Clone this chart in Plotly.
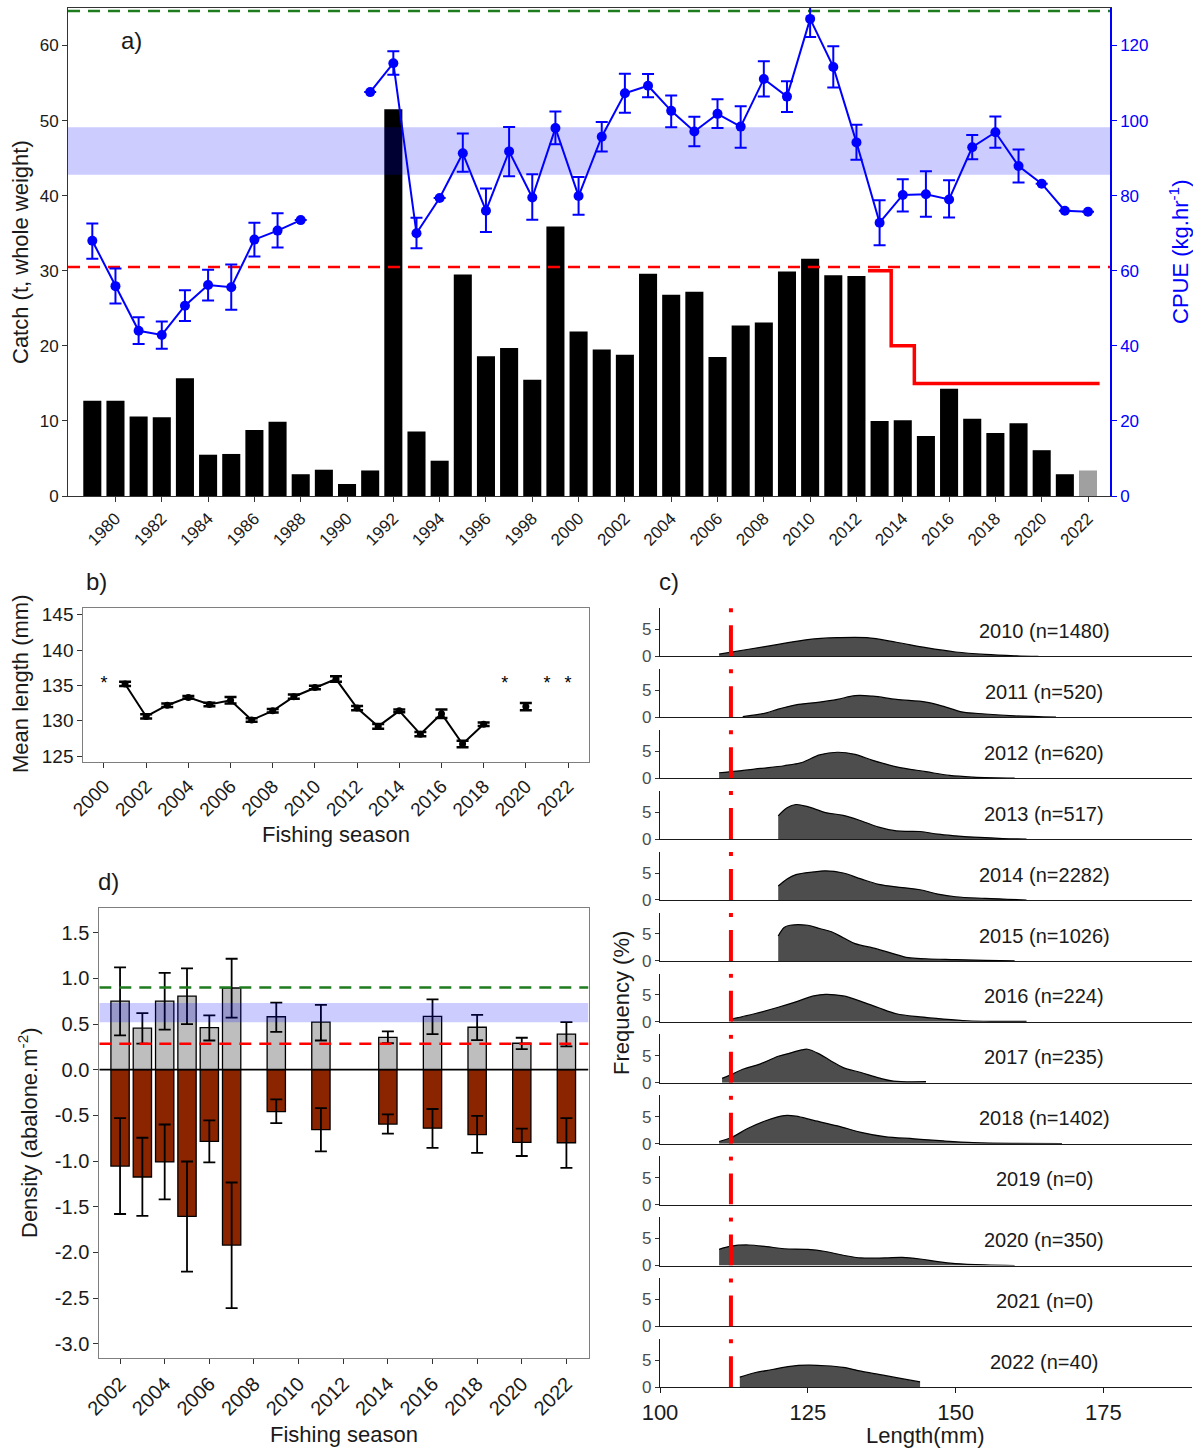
import plotly.graph_objects as go

W, H = 1193, 1449
FONT = "Liberation Sans, Arial, Helvetica, sans-serif"


def px(x):
    return x / W


def py(y):
    return 1 - y / H


# ---------------- Panel a: catch (t) and CPUE ----------------
years_a = list(range(1979, 2023))
catch_t = [12.7, 12.7, 10.6, 10.5, 15.7, 5.5, 5.6, 8.8, 9.9, 2.9, 3.5, 1.6, 3.4, 51.5,
           8.6, 4.7, 29.5, 18.6, 19.7, 15.5, 35.9, 21.9, 19.5, 18.8, 29.6, 26.8, 27.2,
           18.5, 22.7, 23.1, 29.9, 31.6, 29.4, 29.3, 10.0, 10.1, 8.0, 14.3, 10.3, 8.4,
           9.7, 6.1, 2.9, 3.4]
partial_year = 2022
cpue = [68.0, 55.9, 44.0, 42.9, 50.7, 56.2, 55.6, 68.3, 70.7, 73.5, None, None, 107.6,
        115.3, 70.0, 79.4, 91.3, 76.0, 91.8, 79.5, 98.0, 79.9, 95.7, 107.3, 109.3, 102.6,
        97.1, 101.8, 98.4, 111.1, 106.4, 127.1, 114.3, 94.2, 72.8, 80.2, 80.4, 79.0,
        92.9, 96.9, 87.9, 83.2, 76.0, 75.7]
cpue_hi = [72.6, 60.6, 47.6, 46.5, 54.8, 60.3, 61.7, 72.8, 75.3, None, None, None, None,
           118.5, 74.1, None, 96.6, 81.9, 98.3, 85.7, 102.4, 85.0, 99.6, 112.5, 112.4,
           106.7, 101.0, 105.7, 103.8, 115.8, 110.5, 131.9, 119.8, 98.9, 78.8, 84.4, 86.5,
           84.1, 96.2, 101.1, 92.3, None, None, None]
cpue_lo = [63.2, 51.3, 40.5, 39.2, 46.6, 52.1, 49.6, 63.8, 66.2, None, None, None, None,
           112.2, 66.0, None, 86.4, 70.3, 85.2, 73.6, 93.7, 74.9, 91.8, 102.1, 106.2,
           98.2, 93.2, 98.0, 92.8, 106.4, 102.3, 122.3, 108.8, 89.6, 66.8, 75.8, 74.4,
           74.2, 89.7, 92.8, 83.5, None, None, None]
cpue_target = 129.2
cpue_band = [85.6, 98.2]
cpue_limit = 61.0
tacc_x = [2012.5, 2013.5, 2013.5, 2014.5, 2014.5, 2022.5]
tacc_t = [30, 30, 20, 20, 15, 15]

# ---------------- Panel b: mean length ----------------
len_years = list(range(2001, 2021))
mean_len = [135.2, 130.6, 132.2, 133.3, 132.3, 132.9, 130.1, 131.4, 133.4, 134.7, 135.9,
            131.8, 129.2, 131.4, 128.1, 131.0, 126.7, 129.5, None, 132.0]
len_se = [0.3, 0.3, 0.25, 0.2, 0.25, 0.45, 0.25, 0.25, 0.3, 0.25, 0.4, 0.3, 0.35, 0.2,
          0.3, 0.6, 0.45, 0.25, None, 0.5]
no_sample_years = [2000, 2019, 2021, 2022]

# ---------------- Panel d: density ----------------
dens_years = [2002, 2003, 2004, 2005, 2006, 2007, 2009, 2011, 2014, 2016, 2018, 2020, 2022]
legal = [0.75, 0.455, 0.75, 0.805, 0.46, 0.895, 0.58, 0.52, 0.355, 0.585, 0.465, 0.29, 0.39]
legal_hi = [1.12, 0.62, 1.06, 1.11, 0.595, 1.215, 0.735, 0.71, 0.42, 0.77, 0.60, 0.35, 0.52]
legal_lo = [0.375, 0.285, 0.44, 0.50, 0.32, 0.57, 0.415, 0.32, 0.29, 0.39, 0.325, 0.225, 0.255]
sublegal = [-1.055, -1.175, -1.01, -1.605, -0.785, -1.92, -0.46, -0.655, -0.595, -0.64,
            -0.71, -0.795, -0.80]
sublegal_hi = [-0.53, -0.745, -0.60, -1.005, -0.555, -1.235, -0.325, -0.42, -0.49, -0.43,
               -0.505, -0.645, -0.53]
sublegal_lo = [-1.58, -1.60, -1.42, -2.21, -1.015, -2.61, -0.585, -0.895, -0.70, -0.855,
               -0.91, -0.945, -1.075]
dens_target = 0.9
dens_band = [0.52, 0.73]
dens_limit = 0.285
dens_ticks = [1.5, 1.0, 0.5, 0.0, -0.5, -1.0, -1.5, -2.0, -2.5, -3.0]

# ---------------- Panel c: length frequency ----------------
lf_years = list(range(2010, 2023))
sample_n = [1480, 520, 620, 517, 2282, 1026, 224, 235, 1402, 0, 350, 0, 40]
min_legal_length = 112
lf_x_2010 = [110, 115, 120, 125, 130, 135, 140, 145, 150, 155, 160, 164]
lf_y_2010 = [0.4, 1.3, 2.2, 3.1, 3.45, 3.45, 2.6, 1.6, 0.8, 0.35, 0.1, 0.0]
lf_x_2011 = [114, 118, 120, 123, 127, 130, 133, 136, 140, 145, 148, 151, 155, 160, 167]
lf_y_2011 = [0.1, 0.8, 1.5, 2.3, 2.8, 3.3, 4.0, 3.9, 3.3, 2.8, 2.0, 1.0, 0.6, 0.25, 0.0]
lf_x_2012 = [110, 113, 117, 121, 124, 127, 130, 133, 136, 140, 145, 149, 153, 160]
lf_y_2012 = [1.0, 1.3, 1.8, 2.3, 2.9, 4.3, 4.8, 4.4, 3.3, 2.1, 1.2, 0.5, 0.2, 0.0]
lf_x_2013 = [120, 121.5, 123, 125, 128, 131, 134, 137, 140, 144, 147, 150, 154, 158, 162]
lf_y_2013 = [4.3, 5.8, 6.4, 6.0, 4.9, 4.4, 3.4, 2.2, 1.5, 1.4, 0.9, 0.6, 0.3, 0.1, 0.0]
lf_x_2014 = [120, 121.5, 123, 126, 128, 131, 134, 137, 141, 144, 147, 150, 155, 162]
lf_y_2014 = [2.6, 3.9, 4.7, 5.2, 5.4, 5.0, 3.9, 2.9, 2.3, 1.9, 1.1, 0.6, 0.3, 0.0]
lf_x_2015 = [120, 121, 122, 125, 127, 129, 131, 133, 136, 139, 142, 145, 150, 155, 160]
lf_y_2015 = [4.6, 6.2, 6.6, 6.6, 6.0, 5.4, 4.3, 3.2, 2.4, 1.5, 0.6, 0.4, 0.25, 0.1, 0.0]
lf_x_2016 = [112, 116, 120, 123, 126, 128, 131, 134, 137, 140, 144, 148, 152, 156, 162]
lf_y_2016 = [0.5, 1.5, 2.7, 3.7, 4.8, 5.1, 4.8, 3.8, 2.6, 1.5, 0.9, 0.5, 0.2, 0.1, 0.1]
lf_x_2017 = [110.5, 112, 114, 117, 120, 122, 124, 125, 127, 129, 131, 134, 137, 139.5, 145]
lf_y_2017 = [0.8, 1.5, 2.5, 3.5, 4.9, 5.5, 6.1, 6.2, 5.3, 4.0, 2.8, 1.9, 0.9, 0.3, 0.2]
lf_x_2018 = [110, 112, 115, 118, 121, 123, 126, 130, 134, 138, 143, 148, 153, 160, 168]
lf_y_2018 = [0.4, 1.1, 2.9, 4.3, 5.2, 5.1, 4.3, 3.3, 2.1, 1.3, 0.9, 0.5, 0.2, 0.05, 0.0]
lf_x_2019 = []
lf_y_2019 = []
lf_x_2020 = [110, 112, 115, 118, 121, 125, 128, 131, 134, 138, 141, 144, 147, 150, 155, 160]
lf_y_2020 = [3.0, 3.6, 3.8, 3.5, 3.1, 3.0, 2.6, 1.9, 1.4, 1.4, 1.5, 1.2, 0.7, 0.35, 0.1, 0.0]
lf_x_2021 = []
lf_y_2021 = []
lf_x_2022 = [113.5, 116, 119, 122, 125, 128, 131, 134, 137, 140, 144]
lf_y_2022 = [1.9, 2.7, 3.3, 3.9, 4.1, 4.0, 3.7, 3.0, 2.4, 1.8, 1.0]
lf_x = [lf_x_2010, lf_x_2011, lf_x_2012, lf_x_2013, lf_x_2014, lf_x_2015, lf_x_2016,
        lf_x_2017, lf_x_2018, lf_x_2019, lf_x_2020, lf_x_2021, lf_x_2022]
lf_y = [lf_y_2010, lf_y_2011, lf_y_2012, lf_y_2013, lf_y_2014, lf_y_2015, lf_y_2016,
        lf_y_2017, lf_y_2018, lf_y_2019, lf_y_2020, lf_y_2021, lf_y_2022]

fig = go.Figure()
AXC = "#333333"
BOXC = "#7f7f7f"
TXT = "#1a1a1a"

# ===== Panel a =====
xa_range = [1977.95, 2022.95]
bar_colors = ["#a0a0a0" if y == partial_year else "black" for y in years_a]
fig.add_trace(go.Bar(x=years_a, y=catch_t, width=0.78, marker=dict(color=bar_colors, line=dict(width=0)),
                     xaxis="x", yaxis="y", showlegend=False))
fig.add_trace(go.Scatter(x=tacc_x, y=tacc_t, mode="lines", line=dict(color="#ff0000", width=3.5),
                         xaxis="x", yaxis="y", showlegend=False))
fig.add_trace(go.Scatter(x=[xa_range[0], xa_range[1], xa_range[1], xa_range[0], xa_range[0]],
                         y=[cpue_band[0], cpue_band[0], cpue_band[1], cpue_band[1], cpue_band[0]],
                         fill="toself", fillcolor="rgba(0,0,255,0.2)", mode="lines", line=dict(width=0),
                         xaxis="x", yaxis="y2", showlegend=False, hoverinfo="skip"))
fig.add_trace(go.Scatter(x=xa_range, y=[cpue_limit] * 2, mode="lines",
                         line=dict(color="#ff0000", width=2.5, dash="12px,8px"),
                         xaxis="x", yaxis="y2", showlegend=False))
fig.add_trace(go.Scatter(x=xa_range, y=[cpue_target] * 2, mode="lines",
                         line=dict(color="#1e7b1e", width=2.5, dash="12px,8px"),
                         xaxis="x", yaxis="y2", showlegend=False))
plus = [h - v if h is not None else None for h, v in zip(cpue_hi, cpue)]
minus = [v - l if l is not None else None for l, v in zip(cpue_lo, cpue)]
fig.add_trace(go.Scatter(x=years_a, y=cpue, mode="lines+markers", connectgaps=False,
                         line=dict(color="#0000ff", width=2), marker=dict(color="#0000ff", size=10),
                         error_y=dict(type="data", array=plus, arrayminus=minus, color="#0000ff",
                                      thickness=2, width=6),
                         xaxis="x", yaxis="y2", showlegend=False))

# ===== Panel b =====
fig.add_trace(go.Scatter(x=len_years, y=mean_len, mode="lines+markers", connectgaps=False,
                         line=dict(color="black", width=2), marker=dict(color="black", size=7),
                         error_y=dict(type="data", array=len_se, color="black", thickness=2.5, width=6),
                         xaxis="x2", yaxis="y3", showlegend=False))
fig.add_trace(go.Scatter(x=no_sample_years, y=[135.1] * len(no_sample_years), mode="text",
                         text=["*"] * len(no_sample_years),
                         textfont=dict(size=18, color="black", family=FONT),
                         xaxis="x2", yaxis="y3", showlegend=False))

# ===== Panel d =====
xd_range = [2001.07, 2022.99]
fig.add_trace(go.Bar(x=dens_years, y=legal, width=0.82,
                     marker=dict(color="#bebebe", line=dict(color="black", width=1.3)),
                     error_y=dict(type="data", array=[h - v for h, v in zip(legal_hi, legal)],
                                  arrayminus=[v - l for l, v in zip(legal_lo, legal)],
                                  color="black", thickness=1.8, width=6),
                     xaxis="x3", yaxis="y4", showlegend=False))
fig.add_trace(go.Bar(x=dens_years, y=sublegal, width=0.82,
                     marker=dict(color="#8b2500", line=dict(color="black", width=1.3)),
                     error_y=dict(type="data", array=[h - v for h, v in zip(sublegal_hi, sublegal)],
                                  arrayminus=[v - l for l, v in zip(sublegal_lo, sublegal)],
                                  color="black", thickness=1.8, width=6),
                     xaxis="x3", yaxis="y4", showlegend=False))
fig.add_trace(go.Scatter(x=[xd_range[0], xd_range[1], xd_range[1], xd_range[0], xd_range[0]],
                         y=[dens_band[0], dens_band[0], dens_band[1], dens_band[1], dens_band[0]],
                         fill="toself", fillcolor="rgba(0,0,255,0.2)", mode="lines", line=dict(width=0),
                         xaxis="x3", yaxis="y4", showlegend=False, hoverinfo="skip"))
fig.add_trace(go.Scatter(x=xd_range, y=[dens_limit] * 2, mode="lines",
                         line=dict(color="#ff0000", width=2.5, dash="12px,8px"),
                         xaxis="x3", yaxis="y4", showlegend=False))
fig.add_trace(go.Scatter(x=xd_range, y=[dens_target] * 2, mode="lines",
                         line=dict(color="#1e7b1e", width=2.5, dash="12px,8px"),
                         xaxis="x3", yaxis="y4", showlegend=False))
fig.add_trace(go.Scatter(x=xd_range, y=[0, 0], mode="lines", line=dict(color="black", width=1.8),
                         xaxis="x3", yaxis="y4", showlegend=False))

layout = dict(
    width=W, height=H, autosize=False, template="none",
    margin=dict(l=0, r=0, t=0, b=0, pad=0), paper_bgcolor="white", plot_bgcolor="white",
    font=dict(family=FONT, color=TXT), barmode="overlay", showlegend=False,
)

common = dict(showgrid=False, zeroline=False, automargin=False, ticks="outside", ticklen=5,
              tickwidth=1, showline=True, linewidth=1)

layout["xaxis"] = dict(common, domain=[px(68), px(1110)], anchor="y", range=xa_range,
                       tickvals=list(range(1980, 2023, 2)), tickangle=-45, tickfont=dict(size=17),
                       linecolor=AXC, tickcolor=AXC, mirror=True)
layout["yaxis"] = dict(common, domain=[py(496), py(8)], anchor="x", range=[0, 65],
                       tickvals=list(range(0, 61, 10)), tickfont=dict(size=17), linecolor=AXC, tickcolor=AXC)
layout["yaxis2"] = dict(common, overlaying="y", side="right", anchor="x", range=[0, 130],
                        tickvals=list(range(0, 121, 20)), tickfont=dict(size=17, color="#0000ff"),
                        linecolor="#0000ff", tickcolor="#0000ff", linewidth=1.5)

layout["xaxis2"] = dict(common, domain=[px(83.3), px(588.7)], anchor="y3", range=[1999.02, 2022.98],
                        tickvals=list(range(2000, 2023, 2)), tickangle=-45, tickfont=dict(size=19),
                        linecolor=BOXC, tickcolor=AXC, mirror=True)
layout["yaxis3"] = dict(common, domain=[py(761.7), py(607.7)], anchor="x2", range=[124.2, 146.0],
                        tickvals=list(range(125, 146, 5)), tickfont=dict(size=19),
                        linecolor=BOXC, tickcolor=AXC, mirror=True)

layout["xaxis3"] = dict(common, domain=[px(99.3), px(588.5)], anchor="y4", range=xd_range,
                        tickvals=list(range(2002, 2023, 2)), tickangle=-45, tickfont=dict(size=20),
                        linecolor=BOXC, tickcolor=AXC, mirror=True)
layout["yaxis4"] = dict(common, domain=[py(1358.3), py(907.7)], anchor="x3", range=[-3.16, 1.774],
                        tickvals=dens_ticks, ticktext=["%.1f" % v for v in dens_ticks],
                        tickfont=dict(size=20), linecolor=BOXC, tickcolor=AXC, mirror=True)

shapes = []
annotations = []
row_step = 60.92
row_h = 48.3
for i, yr in enumerate(lf_years):
    xa = "x%d" % (4 + i)
    ya = "y%d" % (5 + i)
    z = 656.3 + row_step * i
    t = z - row_h
    last = i == len(lf_years) - 1
    xd = dict(common, domain=[px(660), px(1192)], anchor=ya, range=[100, 190],
              linecolor=TXT, linewidth=1.3, tickcolor=TXT)
    if i > 0:
        xd["matches"] = "x4"
    if last:
        xd.update(tickvals=[100, 125, 150, 175], tickfont=dict(size=22, color=TXT))
    else:
        xd.update(ticks="", showticklabels=False)
    layout["xaxis%d" % (4 + i)] = xd
    layout["yaxis%d" % (5 + i)] = dict(common, domain=[py(z), py(t)], anchor=xa, range=[0, 8.95],
                                       tickvals=[0, 5], tickfont=dict(size=17, color="#4d4d4d"),
                                       linecolor=TXT, linewidth=1.3, tickcolor="#333333", ticklen=4)
    if lf_x[i]:
        fig.add_trace(go.Scatter(x=lf_x[i], y=lf_y[i], mode="lines", fill="tozeroy",
                                 fillcolor="#4d4d4d", line=dict(color="black", width=1.2, shape="spline"),
                                 xaxis=xa, yaxis=ya, showlegend=False))
    shapes.append(dict(type="line", xref=xa, yref=ya, x0=min_legal_length, x1=min_legal_length,
                       y0=0, y1=8.95, line=dict(color="#ff0000", width=4, dash="31px,13px,4px,40px")))
    annotations.append(dict(xref=xa, yref=ya, x=165, y=4.7, text="%d (n=%d)" % (yr, sample_n[i]),
                            showarrow=False, font=dict(size=20, color=TXT),
                            xanchor="center", yanchor="middle"))


def ann(x, y, text, size, angle=0, color=TXT):
    annotations.append(dict(xref="paper", yref="paper", x=px(x), y=py(y), text=text, showarrow=False,
                            textangle=angle, font=dict(size=size, color=color),
                            xanchor="center", yanchor="middle"))


ann(131, 40, "a)", 24)
ann(96, 581, "b)", 24)
ann(669, 581, "c)", 24)
ann(108, 881, "d)", 24)
ann(20, 252, "Catch (t, whole weight)", 22, -90)
ann(1179, 252, "CPUE (kg.hr<sup>-1</sup>)", 22, -90, "#0000ff")
ann(20, 684, "Mean length (mm)", 22, -90)
ann(336, 834, "Fishing season", 22)
ann(28, 1133, "Density (abalone.m<sup>-2</sup>)", 22, -90)
ann(344, 1434, "Fishing season", 22)
ann(622, 1003, "Frequency (%)", 22, -90)
ann(925, 1435, "Length(mm)", 22)

layout["shapes"] = shapes
layout["annotations"] = annotations
fig.update_layout(**layout)
fig.write_html("out.html", config={"displayModeBar": False},
               post_script="document.body.style.margin='0';document.body.style.overflow='hidden';")
